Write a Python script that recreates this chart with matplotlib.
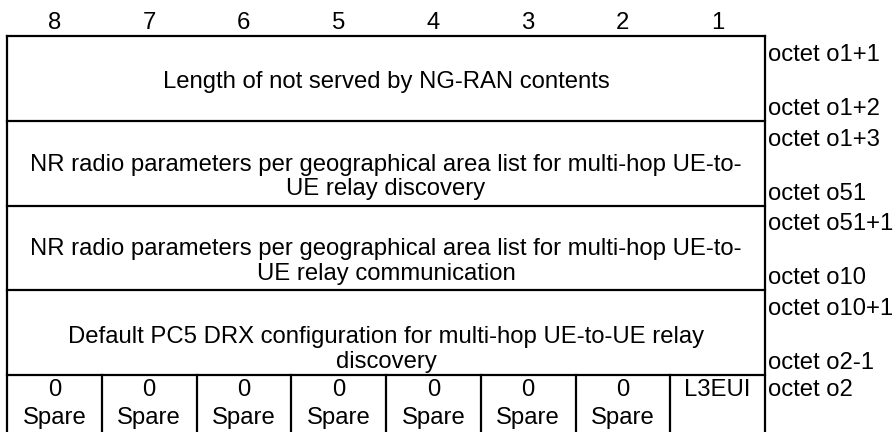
import matplotlib
matplotlib.use('Agg')
import matplotlib.pyplot as plt

plt.rcParams['font.family'] = ['Liberation Sans', 'DejaVu Sans']

# bit numbers on top of the table
bits = ['8', '7', '6', '5', '4', '3', '2', '1']

# full-width fields, one per row (lines as they wrap in the original)
fields = [
    ['Length of not served by NG-RAN contents'],
    ['NR radio parameters per geographical area list for multi-hop UE-to-', 'UE relay discovery'],
    ['NR radio parameters per geographical area list for multi-hop UE-to-', 'UE relay communication'],
    ['Default PC5 DRX configuration for multi-hop UE-to-UE relay', 'discovery'],
]
octets_top = ['octet o1+1', 'octet o1+3', 'octet o51+1', 'octet o10+1']
octets_bottom = ['octet o1+2', 'octet o51', 'octet o10', 'octet o2-1']

# last row: one cell per bit
last_row = [['0', 'Spare']] * 7 + [['L3EUI']]
last_octet = 'octet o2'

# layout in pixels
W, H = 894, 432
left, right = 7, 765
top = 36
row_h = 84.75
fs = 17.2

fig = plt.figure(figsize=(W / 100, H / 100), dpi=100)
ax = fig.add_axes([0, 0, 1, 1])
ax.set_xlim(0, W)
ax.set_ylim(H, 0)
ax.axis('off')

col_w = (right - left) / len(bits)
lw = 1.6

for i, b in enumerate(bits):
    ax.text(left + col_w * (i + 0.5), 29, b, ha='center', va='baseline', fontsize=fs)

n = len(fields)
# horizontal lines
for k in range(n + 1):
    y = top + k * row_h
    ax.plot([left, right], [y, y], color='black', lw=lw, solid_capstyle='projecting')
# outer verticals
ax.plot([left, left], [top, H + 5], color='black', lw=lw)
ax.plot([right, right], [top, H + 5], color='black', lw=lw)

cx = (left + right) / 2
for k, lines in enumerate(fields):
    y0 = top + k * row_h
    if len(lines) == 1:
        ax.text(cx, y0 + 52, lines[0], ha='center', va='baseline', fontsize=fs)
    else:
        base = y0 + (50 if k < 3 else 53)
        for j, line in enumerate(lines):
            ax.text(cx, base + j * 24.5, line, ha='center', va='baseline', fontsize=fs)
    ax.text(right + 3, y0 + 25, octets_top[k], ha='left', va='baseline', fontsize=fs)
    ax.text(right + 3, y0 + row_h - 6, octets_bottom[k], ha='left', va='baseline', fontsize=fs)

# last row
y0 = top + n * row_h
for i, cell in enumerate(last_row):
    x0 = left + col_w * i
    if i > 0:
        ax.plot([x0, x0], [y0, H + 5], color='black', lw=lw)
    for j, t in enumerate(cell):
        ax.text(x0 + col_w / 2, y0 + 21 + j * 28, t, ha='center', va='baseline', fontsize=fs)
ax.text(right + 3, y0 + 21, last_octet, ha='left', va='baseline', fontsize=fs)

fig.savefig('out.png', dpi=100)
